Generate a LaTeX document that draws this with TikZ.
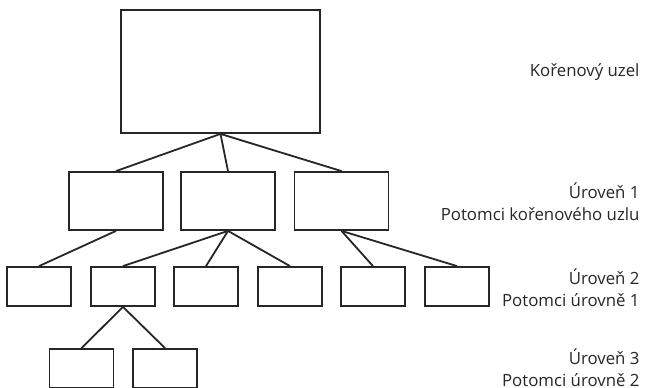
\documentclass[tikz,border=0pt]{standalone}
\usepackage{fontspec}
\setmainfont{Open Sans}
\usepackage{tikz}

\tikzset{
    box/.style={draw=black!85, line width=1.8pt, inner sep=0pt, minimum width=#1},
    box/.default=64pt,
    branch/.style={draw=black!85, line width=1.8pt},
    level/.style={anchor=east, align=right, font=\fontsize{16.8}{22}\selectfont, text=black!85}
}

\begin{document}
\begin{tikzpicture}[x=1pt, y=-1pt]
    \clip (0,0) rectangle (649,388);

    % Koren
    \node[box=199pt, minimum height=123pt] (root) at (220.5,71.5) {};

    % Uroven 1
    \node[box=94pt, minimum height=58pt] (a) at (116,201) {};
    \node[box=94pt, minimum height=58pt] (b) at (228,201) {};
    \node[box=94pt, minimum height=58pt] (c) at (341.5,201) {};

    % Uroven 2
    \node[box, minimum height=39pt] (aa) at (39,286.5) {};
    \node[box, minimum height=39pt] (ba) at (123,286.5) {};
    \node[box, minimum height=39pt] (bb) at (206,286.5) {};
    \node[box, minimum height=39pt] (bc) at (290,286.5) {};
    \node[box, minimum height=39pt] (ca) at (373,286.5) {};
    \node[box, minimum height=39pt] (cb) at (457,286.5) {};

    % Uroven 3
    \node[box, minimum height=39pt] (baa) at (81.5,368.5) {};
    \node[box, minimum height=39pt] (bab) at (165,368.5) {};

    % Vetve
    \draw[branch] (root.south) -- (a.north);
    \draw[branch] (root.south) -- (b.north);
    \draw[branch] (root.south) -- (c.north);
    \draw[branch] (a.south) -- (aa.north);
    \draw[branch] (b.south) -- (ba.north);
    \draw[branch] (b.south) -- (bb.north);
    \draw[branch] (b.south) -- (bc.north);
    \draw[branch] (c.south) -- (ca.north);
    \draw[branch] (c.south) -- (cb.north);
    \draw[branch] (ba.south) -- (baa.north);
    \draw[branch] (ba.south) -- (bab.north);

    % Popisky
    \node[level] (l0) at (643,72) {Kořenový uzel};
    \node[level] (l1) at (643,202) {Úroveň 1\\Potomci kořenového uzlu};
    \node[level] (l2) at (643,287.5) {Úroveň 2\\Potomci úrovně 1};
    \node[level] (l3) at (643,367.5) {Úroveň 3\\Potomci úrovně 2};
\end{tikzpicture}
\end{document}
